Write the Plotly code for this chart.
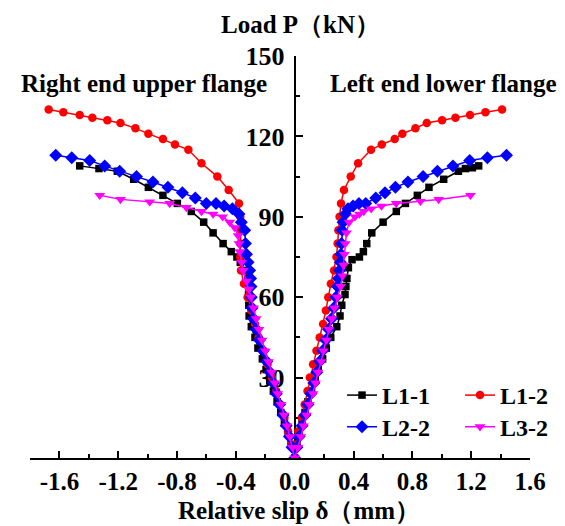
import plotly.graph_objects as go

# ---------------- data ----------------
# L1-1 (black squares)
l11_left_P = [0, 5, 9, 13, 17, 21, 25, 29, 33, 37, 41, 45, 49, 53, 57, 61, 64, 67, 70, 73, 75, 77, 80, 84, 88, 92, 95, 98, 101, 104, 107, 108, 109]
l11_left_x = [0, -0.025, -0.045, -0.07, -0.095, -0.12, -0.145, -0.17, -0.195, -0.22, -0.25, -0.27, -0.295, -0.31, -0.312, -0.314, -0.31, -0.318, -0.34, -0.37, -0.393, -0.431, -0.487, -0.555, -0.619, -0.703, -0.798, -0.896, -0.995, -1.095, -1.206, -1.331, -1.462]
l11_right_P = [0, 5, 9, 13, 17, 21, 25, 29, 33, 37, 41, 45, 49, 53, 57, 61, 64, 67, 71, 74, 75, 77, 80, 84, 88, 92, 95, 98, 101, 104, 107, 108, 108.3, 109]
l11_right_x = [0, 0.015, 0.03, 0.05, 0.07, 0.09, 0.115, 0.14, 0.16, 0.19, 0.215, 0.245, 0.286, 0.308, 0.32, 0.342, 0.348, 0.355, 0.365, 0.39, 0.44, 0.467, 0.49, 0.524, 0.601, 0.691, 0.753, 0.834, 0.913, 1.013, 1.113, 1.161, 1.208, 1.251]

# L1-2 (red circles)
l12_left_P = [0, 5, 10, 15, 20, 25, 30, 35, 40, 45, 50, 55, 60, 65, 70, 75, 80, 85, 90, 95, 100, 105, 110, 115, 117, 119, 121, 123, 125, 126, 127, 128, 129, 130]
l12_left_x = [0, -0.02, -0.045, -0.07, -0.1, -0.125, -0.155, -0.185, -0.215, -0.245, -0.27, -0.295, -0.32, -0.345, -0.365, -0.37, -0.37, -0.365, -0.37, -0.379, -0.449, -0.526, -0.634, -0.723, -0.814, -0.896, -0.995, -1.083, -1.185, -1.274, -1.376, -1.462, -1.573, -1.673]
l12_right_P = [0, 5, 10, 15, 20, 25, 30, 35, 40, 45, 50, 55, 60, 65, 70, 75, 80, 85, 90, 95, 100, 105, 110, 115, 117, 119, 121, 123, 125, 126, 127, 128, 129, 130]
l12_right_x = [0, 0.01, 0.025, 0.048, 0.068, 0.087, 0.103, 0.125, 0.148, 0.17, 0.193, 0.212, 0.228, 0.246, 0.268, 0.284, 0.292, 0.297, 0.305, 0.315, 0.335, 0.381, 0.431, 0.519, 0.592, 0.68, 0.732, 0.821, 0.898, 1.002, 1.093, 1.192, 1.297, 1.41]

# L2-2 (blue diamonds)
l22_left_P = [0, 4, 8, 12, 16, 20, 24, 28, 32, 36, 40, 44, 48, 52, 56, 60, 64, 67, 70, 73, 76, 80, 85, 88, 91, 93, 94, 95, 95, 97, 99, 101, 103, 105, 107, 109, 111, 112, 113]
l22_left_x = [0, -0.018, -0.036, -0.058, -0.08, -0.103, -0.125, -0.145, -0.168, -0.19, -0.215, -0.24, -0.262, -0.28, -0.29, -0.295, -0.297, -0.3, -0.306, -0.317, -0.328, -0.335, -0.34, -0.363, -0.379, -0.424, -0.48, -0.535, -0.601, -0.676, -0.764, -0.862, -0.964, -1.076, -1.19, -1.292, -1.394, -1.516, -1.625]
l22_right_P = [0, 4, 8, 12, 16, 20, 24, 28, 32, 36, 40, 44, 48, 52, 56, 60, 64, 67, 70, 73, 76, 80, 85, 88, 91, 93, 94, 95, 95, 97, 99, 101, 103, 105, 107, 109, 111, 112, 113]
l22_right_x = [0, 0.015, 0.03, 0.05, 0.07, 0.09, 0.11, 0.13, 0.15, 0.17, 0.19, 0.21, 0.23, 0.25, 0.265, 0.28, 0.29, 0.298, 0.305, 0.31, 0.315, 0.318, 0.322, 0.329, 0.345, 0.362, 0.397, 0.437, 0.483, 0.551, 0.614, 0.685, 0.77, 0.873, 0.97, 1.076, 1.19, 1.31, 1.44]

# L3-2 (magenta down-triangles)
l32_left_P = [0, 4, 8, 12, 16, 20, 24, 28, 32, 36, 40, 44, 48, 52, 56, 60, 63, 66, 70, 73, 77, 80, 83, 86, 88, 90, 91, 92, 93.5, 95, 95.6, 96.5, 98]
l32_left_x = [0, -0.016, -0.033, -0.052, -0.072, -0.093, -0.115, -0.135, -0.157, -0.178, -0.2, -0.222, -0.243, -0.262, -0.28, -0.298, -0.312, -0.328, -0.351, -0.362, -0.374, -0.379, -0.385, -0.408, -0.442, -0.49, -0.555, -0.634, -0.737, -0.85, -0.986, -1.185, -1.326]
l32_right_P = [0, 4, 8, 12, 16, 20, 24, 28, 32, 36, 40, 44, 48, 52, 56, 60, 64, 68, 72, 76, 80, 84, 88, 90, 91, 92, 93, 94, 95, 95.8, 96.5, 98]
l32_right_x = [0, 0.022, 0.042, 0.06, 0.08, 0.1, 0.125, 0.142, 0.158, 0.18, 0.195, 0.215, 0.232, 0.252, 0.27, 0.29, 0.312, 0.325, 0.332, 0.338, 0.344, 0.352, 0.37, 0.41, 0.44, 0.47, 0.52, 0.59, 0.69, 0.855, 0.979, 1.195]

series_names = ["L1-1", "L1-2", "L2-2", "L3-2"]
series_colors = ["#000000", "#FF0000", "#0000FF", "#FF00FF"]
series_symbols = ["square", "circle", "diamond", "triangle-down"]
series_sizes = [7.5, 8.5, 10, 9.5]
series_legends = ["legend", "legend", "legend2", "legend2"]
series_legendwidths = [73, 48, 73, 48]

x_ticks = [-1.6, -1.2, -0.8, -0.4, 0.0, 0.4, 0.8, 1.2, 1.6]
x_minor = [-1.4, -1.0, -0.6, -0.2, 0.2, 0.6, 1.0, 1.4]
y_ticks = [30, 60, 90, 120, 150]
y_minor = [15, 45, 75, 105, 135]

X_MIN, X_MAX = -1.8, 1.6

data = [
    (l11_left_x, l11_left_P, l11_right_x, l11_right_P),
    (l12_left_x, l12_left_P, l12_right_x, l12_right_P),
    (l22_left_x, l22_left_P, l22_right_x, l22_right_P),
    (l32_left_x, l32_left_P, l32_right_x, l32_right_P),
]

FONT = "Liberation Serif"
fig = go.Figure()
for (lx, lp, rx, rp), name, col, sym, sz, lg, lw in zip(data, series_names, series_colors,
                                                       series_symbols, series_sizes,
                                                       series_legends, series_legendwidths):
    xs = list(reversed(lx)) + list(rx[1:])
    ys = list(reversed(lp)) + list(rp[1:])
    fig.add_trace(go.Scatter(
        x=xs, y=ys, mode="lines+markers", name=name, legend=lg, legendwidth=lw,
        line=dict(color=col, width=1.5),
        marker=dict(symbol=sym, size=sz, color=col, line=dict(width=0)),
    ))

# page body adds an 8px offset; layout below is expressed in screen pixels
OFF = 8
W, H = 565 - OFF, 526 - OFF
PX0, PX1 = 30, 530        # plot area, screen x
PY0, PY1 = 55.7, 458.3    # plot area, screen y
ml = PX0 - OFF
mr = W - (PX1 - OFF)
mt = PY0 - OFF
mb = H - (PY1 - OFF)
pw = PX1 - PX0
ph = PY1 - PY0
def sx(px):
    return (px - PX0) / pw
def sy(py):
    return (PY1 - py) / ph

yaxis_pos = (0 - X_MIN) / (X_MAX - X_MIN)

leg_font = dict(family=FONT, size=24, color="black", weight="bold")
fig.update_layout(
    width=W, height=H,
    margin=dict(l=ml, r=mr, t=mt, b=mb, pad=0),
    paper_bgcolor="white", plot_bgcolor="white",
    font=dict(family=FONT, color="black", weight="bold"),
    xaxis=dict(
        range=[X_MIN, X_MAX], tickvals=x_ticks, ticktext=[f"{v:.1f}" for v in x_ticks],
        showgrid=False, zeroline=False, showline=True, linecolor="black", linewidth=2,
        ticks="inside", ticklen=7, tickwidth=1.5, tickcolor="black",
        tickfont=dict(family=FONT, size=25, color="black", weight="bold"),
        minor=dict(tickvals=x_minor, ticks="inside", ticklen=4, tickwidth=1.5, tickcolor="black", showgrid=False),
        layer="below traces",
    ),
    yaxis=dict(
        range=[0, 150], tickvals=y_ticks, ticktext=[str(v) for v in y_ticks],
        anchor="free", position=yaxis_pos,
        showgrid=False, zeroline=False, showline=True, linecolor="black", linewidth=2,
        ticks="inside", ticklen=7, tickwidth=1.5, tickcolor="black",
        tickfont=dict(family=FONT, size=26, color="black", weight="bold"),
        ticklabelstandoff=4,
        minor=dict(tickvals=y_minor, ticks="inside", ticklen=4, tickwidth=1.5, tickcolor="black", showgrid=False),
        layer="below traces",
    ),
    legend=dict(
        orientation="h", x=sx(342), y=sy(395.7),
        xanchor="left", yanchor="middle", bgcolor="rgba(0,0,0,0)",
        entrywidthmode="pixels", font=leg_font,
    ),
    legend2=dict(
        orientation="h", x=sx(342), y=sy(427.3),
        xanchor="left", yanchor="middle", bgcolor="rgba(0,0,0,0)",
        entrywidthmode="pixels", font=leg_font,
    ),
    showlegend=True,
)

ann_font = dict(family=FONT, size=25, color="black", weight="bold")
fig.add_annotation(text="Load P（kN）", xref="paper", yref="paper",
                   x=sx(300), y=sy(24), showarrow=False,
                   xanchor="center", yanchor="middle", font=ann_font)
fig.add_annotation(text="Right end upper flange", xref="paper", yref="paper",
                   x=sx(144), y=sy(83), showarrow=False,
                   xanchor="center", yanchor="middle", font=ann_font)
fig.add_annotation(text="Left end lower flange", xref="paper", yref="paper",
                   x=sx(443), y=sy(83), showarrow=False,
                   xanchor="center", yanchor="middle", font=ann_font)
fig.add_annotation(text="Relative slip δ（mm）", xref="paper", yref="paper",
                   x=sx(299), y=sy(511), showarrow=False,
                   xanchor="center", yanchor="middle", font=ann_font)

fig.write_html("out.html")
